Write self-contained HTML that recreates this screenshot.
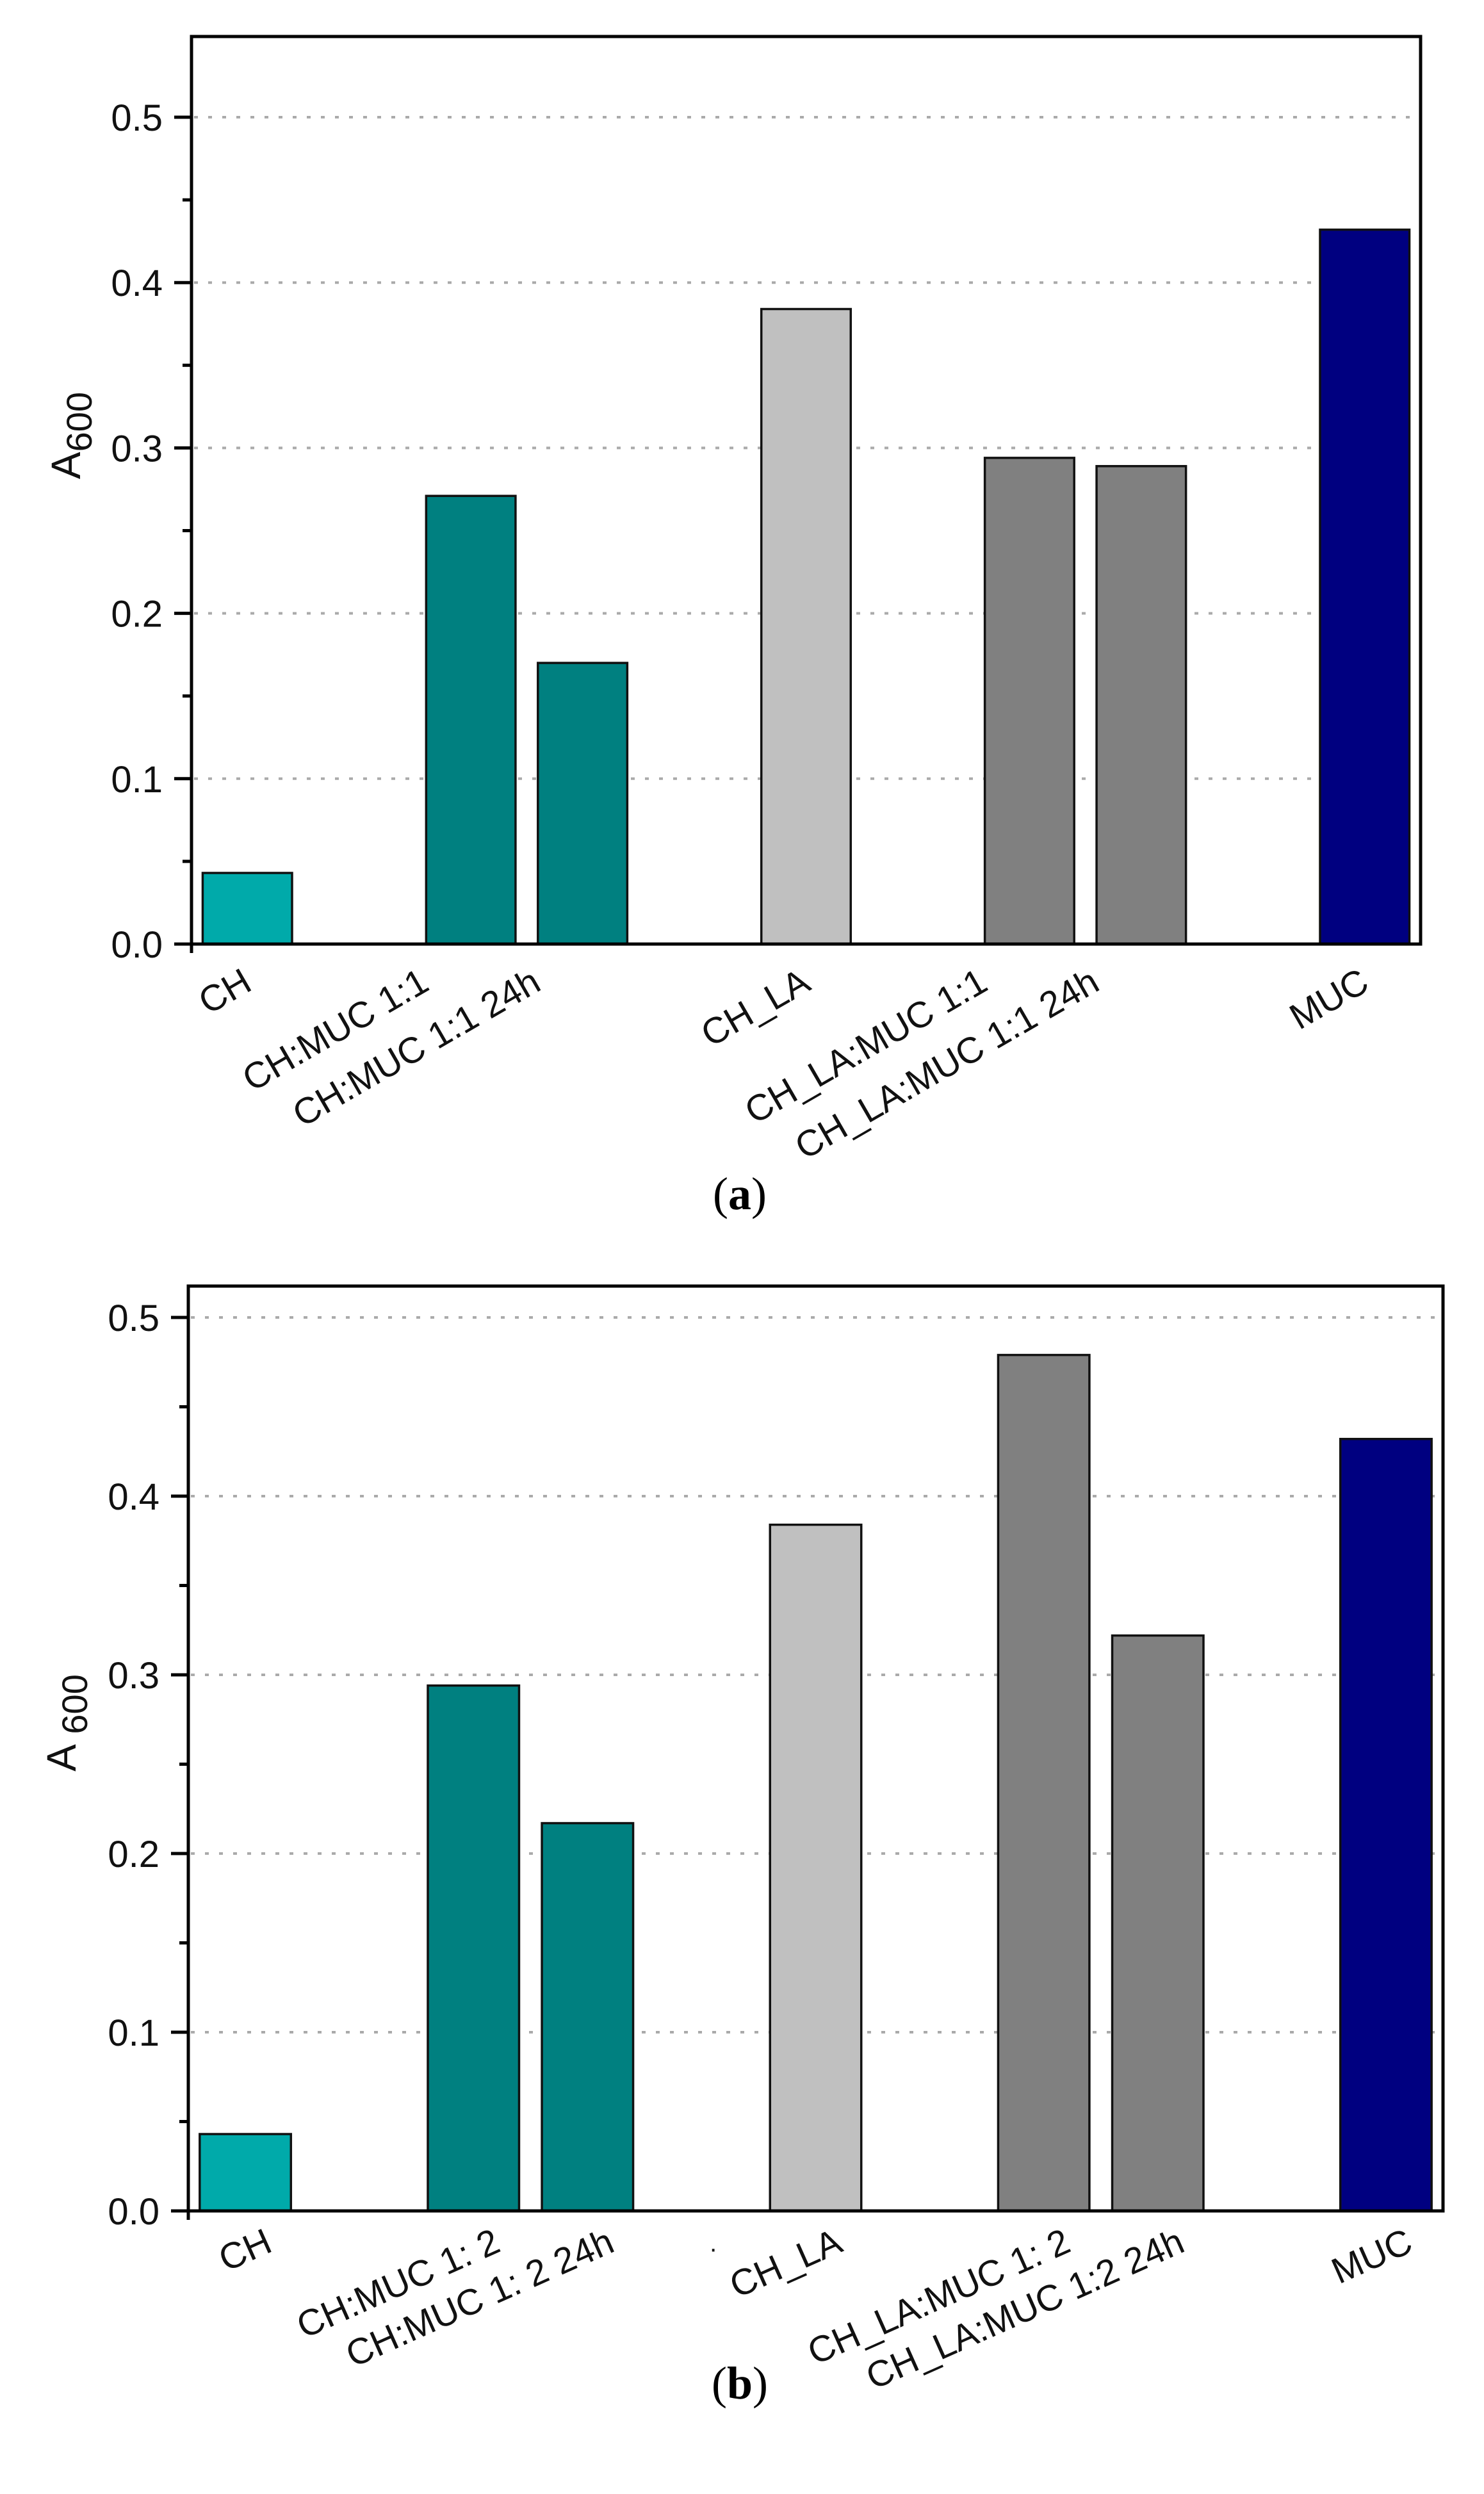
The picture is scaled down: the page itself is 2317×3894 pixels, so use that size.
<!DOCTYPE html>
<html><head><meta charset="utf-8"><style>
html,body{margin:0;padding:0;background:#fff;}
svg{display:block;}
</style></head><body>
<svg id="fig" width="2317" height="3894" viewBox="0 0 2317 3894" xmlns="http://www.w3.org/2000/svg">
<g id="chartA"></g>
<g id="chartB"></g>
<text x="1155" y="1888" text-anchor="middle" font-family="Liberation Serif, serif" font-size="72">(<tspan font-weight="bold">a</tspan>)</text>
<text x="1155" y="3745" text-anchor="middle" font-family="Liberation Serif, serif" font-size="72">(<tspan font-weight="bold">b</tspan>)</text>
</svg>
<script>
const categoriesA = ["CH","CH:MUC 1:1","CH:MUC 1:1 24h","CH_LA","CH_LA:MUC 1:1","CH_LA:MUC 1:1 24h","MUC"];
const valuesA = [0.043, 0.271, 0.170, 0.384, 0.294, 0.289, 0.432];
const categoriesB = ["CH","CH:MUC 1: 2","CH:MUC 1: 2 24h","CH_LA","CH_LA:MUC 1: 2","CH_LA:MUC 1:2 24h","MUC"];
const valuesB = [0.043, 0.294, 0.217, 0.384, 0.479, 0.322, 0.432];
const slots = [0, 2, 3, 5, 7, 8, 10];
const colors = ["#00aaaa","#008080","#008080","#c0c0c0","#808080","#808080","#000080"];
const yTicks = [0.0, 0.1, 0.2, 0.3, 0.4, 0.5];
const yTickLabels = ["0.0","0.1","0.2","0.3","0.4","0.5"];

const NS = "http://www.w3.org/2000/svg";
function mk(tag, attrs, parent){
  const e = document.createElementNS(NS, tag);
  for (const k in attrs) e.setAttribute(k, attrs[k]);
  parent.appendChild(e);
  return e;
}

function drawChart(g, cats, vals, cfg, tag){
  const xScale = s => cfg.left + (s + 0.5) * (cfg.right - cfg.left) / 11;
  const slotW = (cfg.right - cfg.left) / 11;
  const yScale = v => cfg.y0 - v * cfg.pxPerUnit;
  const yMax = (cfg.y0 - cfg.top) / cfg.pxPerUnit;

  for (let i = 1; i < yTicks.length; i++) {
    const gl = mk("line", {x1: cfg.left + 4, x2: cfg.right - 4, y1: yScale(yTicks[i]), y2: yScale(yTicks[i]),
      stroke: "#aaaaaa", "stroke-width": 4, "stroke-dasharray": "6 16"}, g);
    
    
  }
  for (let i = 0; i < vals.length; i++) {
    const cx = xScale(slots[i]);
    const w = slotW * 0.8;
    const r = mk("rect", {x: cx - w / 2, y: yScale(vals[i]), width: w, height: yScale(0) - yScale(vals[i]),
      fill: colors[i], stroke: "#111", "stroke-width": 3.5}, g);
    
    
    let dx = cfg.labelDx;
    if (cfg.shiftPaired && cats[i].indexOf(":") >= 0) dx -= 72;
    const lx = cx + dx, ly = cfg.y0 + cfg.labelDy;
    const t = mk("text", {x: lx, y: ly, "text-anchor": "end", "font-family": "Liberation Sans, sans-serif",
      "font-size": 57, fill: "#111", transform: "rotate(" + (-cfg.angle) + " " + lx + " " + ly + ")"}, g);
    t.textContent = cats[i];
    
    
  }
  for (let i = 0; i < yTicks.length; i++) {
    const y = yScale(yTicks[i]);
    const tk = mk("line", {x1: cfg.left - 27, x2: cfg.left, y1: y, y2: y, stroke: "#000", "stroke-width": 5}, g);
    
    
    const tl = mk("text", {x: cfg.left - 45, y: y + 21, "text-anchor": "end", "font-family": "Liberation Sans, sans-serif",
      "font-size": 58, fill: "#111"}, g);
    tl.textContent = yTickLabels[i];
    
    
    const mv = yTicks[i] + 0.05;
    if (mv < yMax) {
      const ym = yScale(mv);
      const mt = mk("line", {x1: cfg.left - 14, x2: cfg.left, y1: ym, y2: ym, stroke: "#000", "stroke-width": 5}, g);
      
      
    }
  }
  const bt = mk("line", {x1: cfg.left, x2: cfg.left, y1: cfg.y0, y2: cfg.y0 + 14, stroke: "#000", "stroke-width": 5}, g);
  
  
  const fr = mk("rect", {x: cfg.left, y: cfg.top, width: cfg.right - cfg.left, height: cfg.y0 - cfg.top,
    fill: "none", stroke: "#000", "stroke-width": 5}, g);
  
  
  const ty = cfg.titleY, tx = cfg.titleX;
  const tt = mk("text", {x: tx, y: ty, "text-anchor": "middle", "font-family": "Liberation Sans, sans-serif",
    "font-size": 64, fill: "#111", transform: "rotate(-90 " + tx + " " + ty + ")"}, g);
  
  
  tt.appendChild(document.createTextNode("A"));
  const sub = mk("tspan", {"font-size": 56, dy: 18}, tt);
  sub.textContent = cfg.subSpace ? " 600" : "600";
}

drawChart(document.getElementById("chartA"), categoriesA, valuesA,
  {left: 299, right: 2218, top: 57, y0: 1474, pxPerUnit: 2582, labelDx: 10, labelDy: 70, angle: 30,
   shiftPaired: true, titleX: 125, titleY: 680, subSpace: false}, "a");
drawChart(document.getElementById("chartB"), categoriesB, valuesB,
  {left: 294, right: 2253, top: 2008, y0: 3452, pxPerUnit: 2790, labelDx: 45, labelDy: 62, angle: 24,
   shiftPaired: false, titleX: 118, titleY: 2690, subSpace: true}, "b");

const dot = mk("text", {x: 1107, y: 3524, "font-family": "Liberation Sans, sans-serif", "font-size": 40, fill: "#111"}, document.getElementById("chartB"));
dot.textContent = "·";


</script>
</body></html>
